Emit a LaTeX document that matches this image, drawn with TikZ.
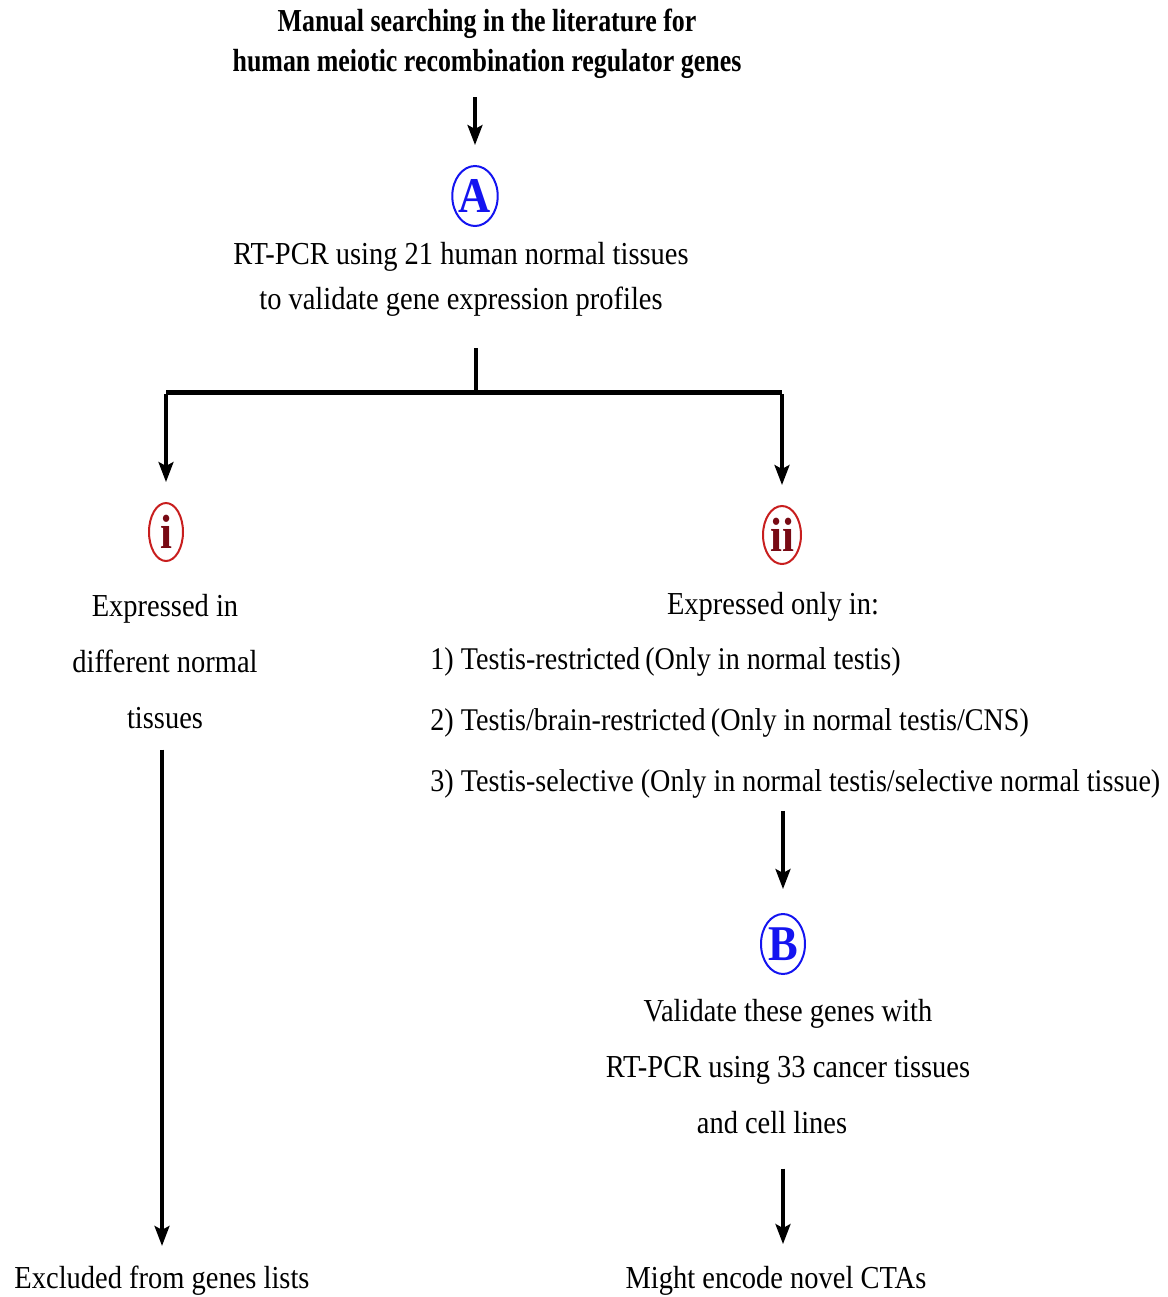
\documentclass[tikz,border=0pt]{standalone}
\usepackage{fontspec}
\setmainfont{Liberation Serif}[FakeStretch=0.89]
\newfontfamily\headfont{Liberation Serif}[FakeStretch=0.81]
\usetikzlibrary{arrows.meta,shapes.geometric}

\definecolor{markblue}{RGB}{20,20,240}
\definecolor{markred}{RGB}{200,30,30}
\definecolor{markdark}{RGB}{120,10,20}

\begin{document}
\begin{tikzpicture}[x=0.5pt, y=-0.5pt,
    txt/.style = {font=\fontsize{16}{28}\selectfont, align=center, inner sep=0pt},
    ttl/.style = {font=\headfont\bfseries\fontsize{16}{20}\selectfont, align=center, inner sep=0pt},
    stage/.style = {draw=markblue, line width=1pt, ellipse, inner sep=0pt, minimum height=30pt,
        text=markblue, font=\bfseries\fontsize{25}{25}\selectfont},
    group/.style = {draw=markred, line width=1pt, ellipse, inner sep=0pt, minimum height=29pt,
        text=markdark, font=\bfseries\fontsize{24}{24}\selectfont},
    arr/.style = {line width=1.6pt, -{Stealth[length=10pt, width=7.5pt, inset=2pt]}}]
    \useasboundingbox (0,0) rectangle (1168,1297);
    \node[ttl] (search) at (487,44) {Manual searching in the literature for\\human meiotic recombination regulator genes};
    \node[stage, minimum width=20pt] (A) at (475,196) {A};
    \node[txt, font=\fontsize{16}{22.5}\selectfont] (rtpcr) at (461,279) {RT-PCR using 21 human normal tissues\\to validate gene expression profiles};
    \coordinate (split) at (476,392);
    \coordinate (left) at (166,392);
    \coordinate (right) at (782,392);
    \node[group, minimum width=17pt] (i) at (166,532) {i};
    \node[group, minimum width=19pt] (ii) at (782,535) {ii};
    \node[txt] (normal) at (165,662) {Expressed in\\different normal\\tissues};
    \node[txt] (only) at (773,607) {Expressed only in:};
    \node[txt, align=left, anchor=west, font=\fontsize{15.8}{30.5}\selectfont] (kinds) at (430,723)
        {1) Testis-restricted\,(Only in normal testis)\\2) Testis/brain-restricted\,(Only in normal testis/CNS)\\3) Testis-selective (Only in normal testis/selective normal tissue)};
    \node[stage, minimum width=22pt] (B) at (783,944) {B};
    \node[txt] (cancer) at (788,1067) {Validate these genes with\\RT-PCR using 33 cancer tissues\\and cell lines\rule{16pt}{0pt}};
    \node[txt] (excluded) at (162,1281) {Excluded from genes lists};
    \node[txt] (cta) at (776,1281) {Might encode novel CTAs};
    % connectors
    \draw[arr, shorten <=9pt, shorten >=10pt] (search.south -| A.north) -- (A.north);
    \draw[line width=1.8pt] (split |- rtpcr.south) ++(0,32) -- (split);
    \draw[line width=2.5pt] (left) -- (right);
    \draw[arr] ([yshift=-1.2pt]left) -- ([yshift=10pt]i.north);
    \draw[arr] ([yshift=-1.2pt]right) -- ([yshift=10pt]ii.north);
    \draw[arr, shorten <=10pt, shorten >=10pt] (excluded |- normal.south) -- (excluded.north);
    \draw[arr, shorten <=6pt, shorten >=12pt] (B |- kinds.south) -- (B.north);
    \draw[arr, shorten <=17pt, shorten >=11pt] (B |- cancer.south) -- (B |- cta.north);
\end{tikzpicture}
\end{document}
